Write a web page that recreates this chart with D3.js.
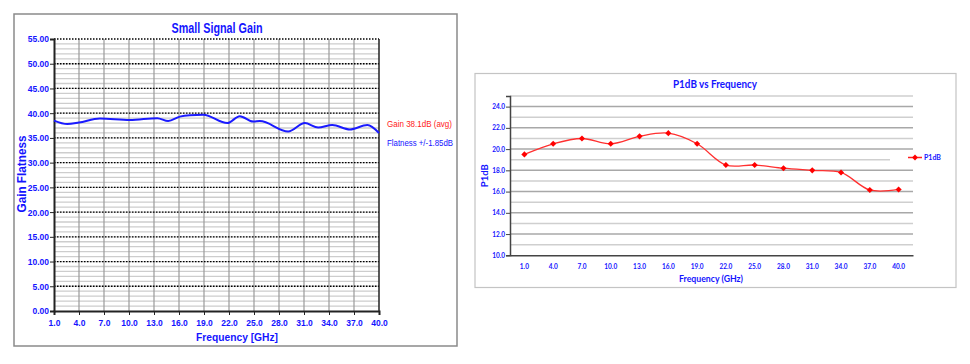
<!DOCTYPE html>
<html><head><meta charset="utf-8">
<script src="https://cdn.jsdelivr.net/npm/d3@7"></script>
<style>
html,body{margin:0;padding:0;background:#fff;}
svg{display:block;}
</style></head>
<body>
<svg id="c" width="970" height="364"></svg>
<script>
// ---- Left chart data: Small Signal Gain ----
const gainFreq = [1.0, 2.6, 4.0, 6.5, 10.1, 13.4, 14.7, 16.1, 17.3, 18.9, 21.8, 23.3, 24.9, 25.7, 29.1, 31.1, 32.7, 34.4, 36.5, 38.6, 40.0];
const gainDb   = [38.5, 37.8, 38.1, 38.9, 38.6, 39.0, 38.4, 39.3, 39.6, 39.7, 38.0, 39.4, 38.3, 38.4, 36.3, 38.0, 37.1, 37.6, 36.7, 37.6, 36.0];
const gainXTicks = [1, 4, 7, 10, 13, 16, 19, 22, 25, 28, 31, 34, 37, 40];
const gainYTicks = [0, 5, 10, 15, 20, 25, 30, 35, 40, 45, 50, 55];
const gainNotes = ["Gain 38.1dB (avg)", "Flatness +/-1.85dB"];

// ---- Right chart data: P1dB vs Frequency ----
const p1Freq = ["1.0","4.0","7.0","10.0","13.0","16.0","19.0","22.0","25.0","28.0","31.0","34.0","37.0","40.0"];
const p1Db   = [19.5, 20.5, 21.0, 20.5, 21.2, 21.5, 20.5, 18.5, 18.5, 18.2, 18.0, 17.8, 16.15, 16.2];
const p1YTicks = [10, 12, 14, 16, 18, 20, 22, 24];

const svg = d3.select("#c");
const BLUE = "#1414ff";

// ================= LEFT CHART =================
(function(){
  const L = 54, R = 379, T = 39, B = 311;
  const fontL = "'Liberation Sans', Arial, sans-serif";
  svg.append("rect").attr("x",14).attr("y",14).attr("width",443).attr("height",332)
     .attr("fill","#fff").attr("stroke","#8a8a8a").attr("stroke-width",1.5);

  const x = d3.scaleLinear().domain([1,40]).range([L,R]);
  const y = d3.scaleLinear().domain([0,55]).range([B,T]);
  const g = svg.append("g");

  // minor horizontal lines every 1
  g.append("g").selectAll("line").data(d3.range(1,55)).join("line")
    .attr("x1",L).attr("x2",R).attr("y1",d=>y(d)).attr("y2",d=>y(d))
    .attr("stroke","#cdcdcd").attr("stroke-width",1.3);
  // vertical grid
  g.append("g").selectAll("line").data(gainXTicks.slice(1,-1)).join("line")
    .attr("x1",d=>x(d)).attr("x2",d=>x(d)).attr("y1",T).attr("y2",B)
    .attr("stroke","#9a9a9a").attr("stroke-width",1.2);
  // dotted major lines
  g.append("g").selectAll("line").data(gainYTicks.slice(1)).join("line")
    .attr("x1",L).attr("x2",R).attr("y1",d=>y(d)).attr("y2",d=>y(d))
    .attr("stroke","#000").attr("stroke-width",1.3).attr("stroke-dasharray","1.5,1.5");

  // border
  g.append("line").attr("x1",R).attr("x2",R).attr("y1",T).attr("y2",B).attr("stroke","#222").attr("stroke-width",1.5);

  // axes
  const yAx = g.append("g").attr("transform",`translate(${L},0)`)
    .call(d3.axisLeft(y).tickValues(gainYTicks).tickSize(4).tickFormat(d3.format(".2f")));
  const xAx = g.append("g").attr("transform",`translate(0,${B})`)
    .call(d3.axisBottom(x).tickValues(gainXTicks).tickSize(4).tickFormat(d3.format(".1f")));
  [yAx,xAx].forEach(a=>{
    a.select(".domain").attr("stroke","#222").attr("stroke-width",2);
    a.selectAll(".tick line").attr("stroke","#222");
    a.selectAll("text").attr("fill",BLUE).attr("font-family",fontL).attr("font-weight","bold").attr("font-size",8.5);
  });
  yAx.selectAll("text").attr("dy","0.35em").attr("x",-5);
  xAx.selectAll("text").attr("y",9);

  // line
  const line = d3.line().x((d,i)=>x(gainFreq[i])).y(d=>y(d)).curve(d3.curveMonotoneX);
  g.append("path").datum(gainDb).attr("d",line).attr("fill","none")
    .attr("stroke","#1a1aff").attr("stroke-width",2);

  // texts
  svg.append("text").attr("x",217).attr("y",33).attr("text-anchor","middle")
    .attr("font-family",fontL).attr("font-weight","bold").attr("font-size",15).attr("fill",BLUE)
    .attr("textLength",91).attr("lengthAdjust","spacingAndGlyphs").text("Small Signal Gain");
  svg.append("text").attr("transform","translate(26,174) rotate(-90)").attr("text-anchor","middle")
    .attr("font-family",fontL).attr("font-weight","bold").attr("font-size",12).attr("fill",BLUE)
    .attr("textLength",77).attr("lengthAdjust","spacingAndGlyphs").text("Gain Flatness");
  svg.append("text").attr("x",237).attr("y",341).attr("text-anchor","middle")
    .attr("font-family",fontL).attr("font-weight","bold").attr("font-size",11).attr("fill",BLUE)
    .attr("textLength",82).attr("lengthAdjust","spacingAndGlyphs").text("Frequency [GHz]");
  svg.append("text").attr("x",387).attr("y",127).attr("font-family",fontL).attr("font-size",9)
    .attr("fill","#ff1a1a").attr("textLength",65).attr("lengthAdjust","spacingAndGlyphs").text(gainNotes[0]);
  svg.append("text").attr("x",387).attr("y",146).attr("font-family",fontL).attr("font-size",9)
    .attr("fill",BLUE).attr("textLength",66).attr("lengthAdjust","spacingAndGlyphs").text(gainNotes[1]);
})();

// ================= RIGHT CHART =================
(function(){
  const L = 510, R = 913, T = 96, B = 255.3;
  const fontR = "Lato, 'Open Sans', sans-serif";
  svg.append("rect").attr("x",475).attr("y",73.5).attr("width",481).attr("height",214)
     .attr("fill","#fff").attr("stroke","#c4c4c4").attr("stroke-width",1.2);

  const x = d3.scaleBand().domain(p1Freq).range([L,R]).padding(0);
  const y = d3.scaleLinear().domain([10,25]).range([B,T]);
  const g = svg.append("g");

  g.append("g").selectAll("line").data(d3.range(11,26)).join("line")
    .attr("x1",L).attr("x2",R).attr("y1",d=>y(d)).attr("y2",d=>y(d))
    .attr("stroke",d=>d%2===0?"#a8a8a8":"#cfcfcf").attr("stroke-width",1.5);

  const yAx = g.append("g").attr("transform",`translate(${L},0)`)
    .call(d3.axisLeft(y).tickValues(p1YTicks).tickSize(4).tickFormat(d3.format(".1f")));
  const xAx = g.append("g").attr("transform",`translate(0,${B})`)
    .call(d3.axisBottom(x).tickSize(0).tickFormat(d=>d));
  yAx.select(".domain").attr("stroke","#444").attr("stroke-width",1.5);
  xAx.select(".domain").attr("stroke","#444").attr("stroke-width",1.5);
  yAx.selectAll(".tick line").attr("stroke","#444");
  [yAx,xAx].forEach(a=>a.selectAll("text").attr("fill",BLUE).attr("font-family",fontR)
     .attr("font-weight","bold").attr("font-size",6.5));
  yAx.selectAll("text").attr("x",-5);
  xAx.selectAll("text").attr("y",9);

  // legend box (white, covers part of a gridline)
  svg.append("rect").attr("x",890).attr("y",152).attr("width",64).attr("height",12).attr("fill","#fff");
  svg.append("line").attr("x1",908).attr("x2",922).attr("y1",157.5).attr("y2",157.5)
     .attr("stroke","#ff2020").attr("stroke-width",1.5);
  svg.append("path").attr("d",d3.symbol(d3.symbolDiamond2,22)()).attr("transform","translate(915,157.5)").attr("fill","#ff0000");
  svg.append("text").attr("x",924).attr("y",160).attr("font-family",fontR).attr("font-weight","bold")
     .attr("font-size",7).attr("fill",BLUE).text("P1dB");

  const cx = d=>x(d)+x.bandwidth()/2;
  const line = d3.line().x((d,i)=>cx(p1Freq[i])).y(d=>y(d)).curve(d3.curveCatmullRom.alpha(0.5));
  g.append("path").datum(p1Db).attr("d",line).attr("fill","none").attr("stroke","#ff3030").attr("stroke-width",1.3);
  g.append("g").selectAll("path").data(p1Db).join("path")
    .attr("d",d3.symbol(d3.symbolDiamond2,24)())
    .attr("transform",(d,i)=>`translate(${cx(p1Freq[i])},${y(d)})`).attr("fill","#ff0000");

  svg.append("text").attr("x",715).attr("y",88).attr("text-anchor","middle")
    .attr("font-family",fontR).attr("font-weight","bold").attr("font-size",11).attr("fill",BLUE)
    .attr("textLength",84).attr("lengthAdjust","spacingAndGlyphs").text("P1dB vs Frequency");
  svg.append("text").attr("x",711).attr("y",282).attr("text-anchor","middle")
    .attr("font-family",fontR).attr("font-weight","bold").attr("font-size",9.5).attr("fill",BLUE)
    .attr("textLength",64).attr("lengthAdjust","spacingAndGlyphs").text("Frequency (GHz)");
  svg.append("text").attr("transform",`translate(488,${(T+B)/2}) rotate(-90)`).attr("text-anchor","middle")
    .attr("font-family",fontR).attr("font-weight","bold").attr("font-size",9.5).attr("fill",BLUE)
    .text("P1dB");
})();
</script>
</body></html>
